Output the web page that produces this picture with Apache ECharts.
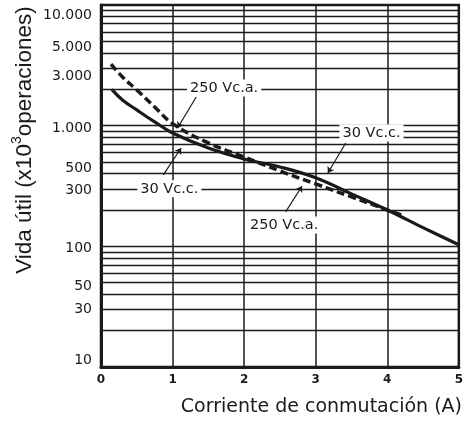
<!DOCTYPE html>
<html>
<head>
<meta charset="utf-8">
<script src="https://cdn.jsdelivr.net/npm/echarts@6/dist/echarts.min.js"></script>
<style>html,body{margin:0;padding:0;background:#fff}#c{width:466px;height:423px}</style>
</head>
<body>
<div id="c"></div>
<script>
// ---- data ----
const xSolid = [0.15, 0.3, 0.5, 0.75, 1, 1.5, 2, 2.5, 3, 3.5, 4, 4.5, 5];
const ySolid = [2000, 1633, 1350, 1074, 870, 653, 530, 455, 370, 272, 200, 143, 103];
const xDash = [0.14, 0.3, 0.5, 0.75, 1, 1.5, 2, 2.5, 3, 3.5, 4, 4.2];
const yDash = [3240, 2530, 1977, 1429, 1040, 719, 550, 421, 329, 257, 200, 182];
const yTickValues = [10, 30, 50, 100, 300, 500, 1000, 3000, 5000, 10000];
const yTickLabels = ['10', '30', '50', '100', '300', '500', '1.000', '3.000', '5.000', '10.000'];
const gridValues = [20, 30, 40, 50, 60, 70, 80, 90, 100, 200, 300, 400, 500, 600, 700, 800, 900,
                    1000, 2000, 3000, 4000, 5000, 6000, 7000, 8000, 9000];
const annoText = ['250 Vc.a.', '30 Vc.c.', '30 Vc.c.', '250 Vc.a.'];
const annoPos = [[1.72, 2050], [0.955, 300], [3.78, 870], [2.56, 150]];
const leaderFrom = [[1.33, 1730], [0.87, 391], [3.42, 719], [2.58, 193]];
const leaderTo = [[1.07, 957], [1.12, 653], [3.17, 405], [2.81, 316]];

// ---- styling helpers ----
const INK = '#1a1a1a';
const labelShift = {10: -7, 30: 0, 50: 4, 100: 2, 300: 2, 500: 6, 1000: 3, 3000: 8, 5000: 6, 10000: 10};
const allLines = Array.from(new Set(gridValues.concat(yTickValues))).sort((a, b) => a - b);
const richStyles = {};
Object.keys(labelShift).forEach(k => {
  const s = labelShift[k];
  richStyles['t' + k] = {
    color: INK, fontSize: 14, fontFamily: 'DejaVu Sans',
    padding: s >= 0 ? [2 * s, 0, 0, 0] : [0, 0, -2 * s, 0]
  };
});
const gridMarks = allLines.map(v => {
  const idx = yTickValues.indexOf(v);
  const isBorder = (v === 10 || v === 10000);
  const d = {
    yAxis: v,
    lineStyle: isBorder ? {color: 'rgba(0,0,0,0)', width: 1} : {color: INK, width: 1.4, type: 'solid'}
  };
  if (idx >= 0) {
    d.label = {
      show: true, position: 'start', distance: 9,
      formatter: '{t' + v + '|' + yTickLabels[idx] + '}',
      color: INK, fontSize: 14, fontFamily: 'DejaVu Sans',
      rich: richStyles
    };
  } else {
    d.label = {show: false};
  }
  return d;
});

const chart = echarts.init(document.getElementById('c'), null, {renderer: 'canvas'});
chart.setOption({
  animation: false,
  backgroundColor: '#fff',
  grid: {left: 101, right: 4, top: 5, bottom: 56, show: true, borderColor: INK, borderWidth: 2.5, containLabel: false},
  xAxis: {
    type: 'value', min: 0, max: 5, interval: 1,
    axisLine: {show: true, lineStyle: {color: INK, width: 3}},
    axisTick: {show: false},
    splitLine: {show: true, lineStyle: {color: INK, width: 1.5}},
    axisLabel: {color: INK, fontSize: 12, fontWeight: 'bold', fontFamily: 'DejaVu Sans', margin: 7}
  },
  yAxis: {
    type: 'log', logBase: 10, min: 10, max: 10000,
    axisLine: {show: true, lineStyle: {color: INK, width: 3}},
    axisTick: {show: false},
    axisLabel: {show: false},
    splitLine: {show: false}
  },
  graphic: [
    {
      type: 'text', x: 23, y: 140, rotation: Math.PI / 2,
      style: {
        text: '{a|Vida útil (x10}{s|3}{a|operaciones)}',
        align: 'center', verticalAlign: 'middle',
        rich: {
          a: {fontSize: 22.5, fontFamily: 'Liberation Sans', fill: INK, lineHeight: 26, verticalAlign: 'bottom'},
          s: {fontSize: 14, fontFamily: 'Liberation Sans', fill: INK, lineHeight: 26, verticalAlign: 'top'}
        }
      }
    },
    {
      type: 'text', x: 462, y: 407,
      style: {text: 'Corriente de conmutación (A)', align: 'right', verticalAlign: 'middle',
               fontSize: 19, fontFamily: 'DejaVu Sans', fill: INK}
    }
  ],
  series: [
    {
      name: 'grid', type: 'line', data: [], silent: true,
      markLine: {silent: true, z: 1, symbol: 'none', animation: false, data: gridMarks}
    },
    {
      name: '30 Vc.c.', type: 'line', z: 3, smooth: 0.4, symbol: 'none',
      lineStyle: {color: INK, width: 3.2},
      data: xSolid.map((x, i) => [x, ySolid[i]])
    },
    {
      name: '250 Vc.a.', type: 'line', z: 3, smooth: 0.4, symbol: 'none',
      lineStyle: {color: INK, width: 3.5, type: [8, 4]},
      data: xDash.map((x, i) => [x, yDash[i]])
    },
    {
      name: 'annotations', type: 'line', data: [], silent: true,
      markLine: {
        silent: true, z: 6, symbol: ['none', 'arrow'], symbolSize: 6, animation: false,
        lineStyle: {color: INK, width: 1.2, type: 'solid'},
        label: {show: false},
        data: leaderFrom.map((f, i) => [{coord: f}, {coord: leaderTo[i]}])
      },
      markPoint: {
        silent: true, z: 7, symbol: 'circle', symbolSize: 1, animation: false,
        itemStyle: {color: 'rgba(0,0,0,0)'},
        label: {show: true, position: 'inside', formatter: '{b}', color: INK, fontSize: 14.5,
                fontFamily: 'DejaVu Sans', backgroundColor: '#fff', padding: [1, 3]},
        data: annoPos.map((p, i) => ({name: annoText[i], coord: p}))
      }
    }
  ]
});
</script>
</body>
</html>
